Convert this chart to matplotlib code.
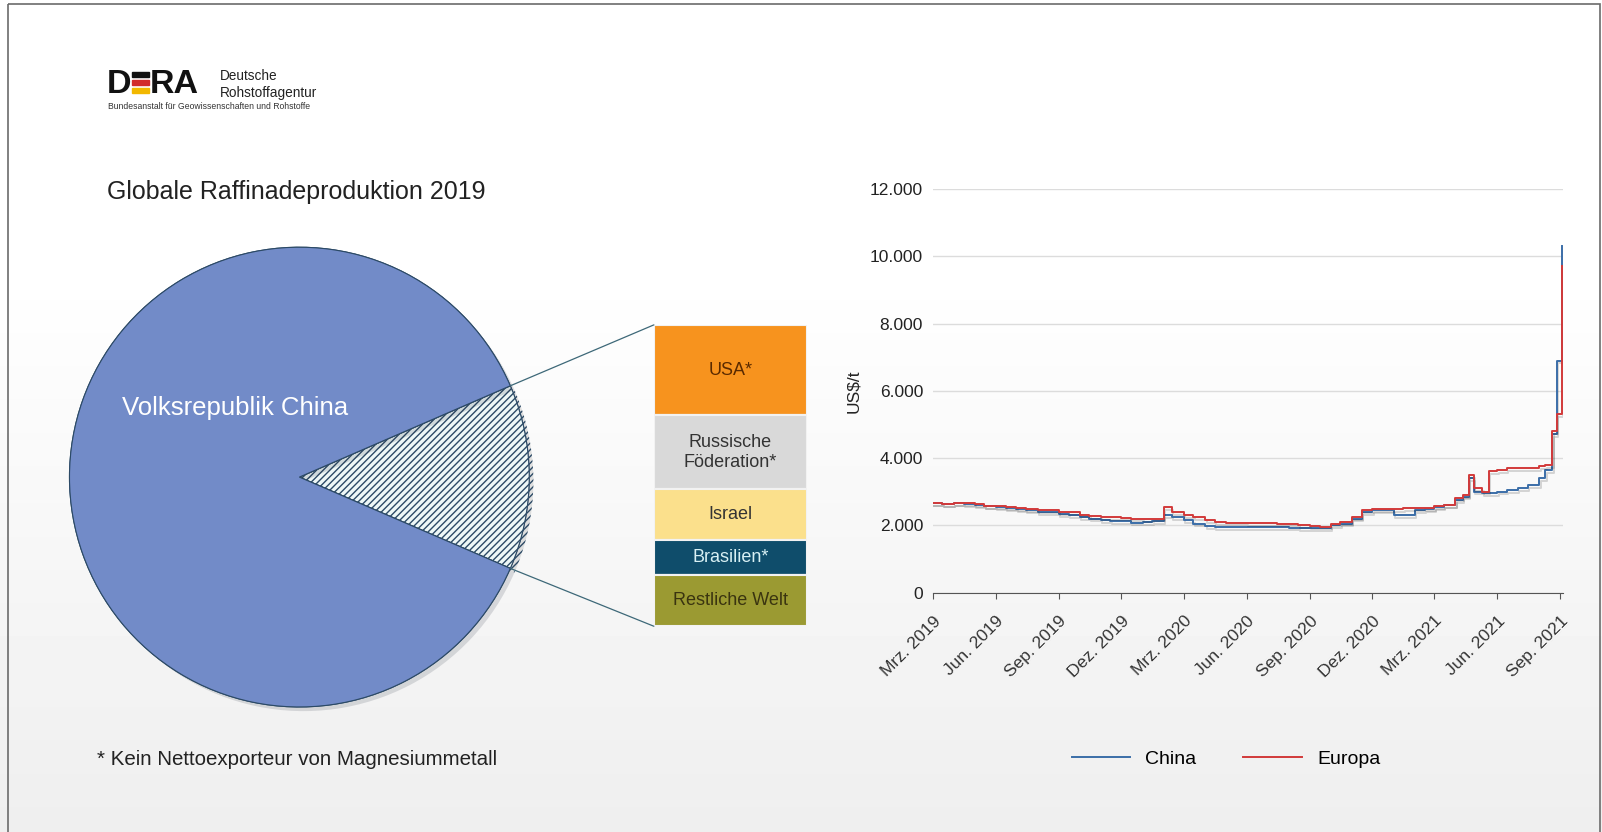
import matplotlib
matplotlib.use('Agg')
import matplotlib.pyplot as plt
import matplotlib.patheffects as pe
from matplotlib.patches import Rectangle, ConnectionPatch
import numpy as np
import pandas as pd

plt.rcParams['font.family'] = ['Liberation Sans', 'DejaVu Sans']

# pie / stack data (share of global production 2019, %)
china_share = 87.0
other_names = ['USA*', 'Russische\nFöderation*', 'Israel', 'Brasilien*', 'Restliche Welt']
other_shares = [3.9, 3.2, 2.2, 1.5, 2.2]
other_colors = ['#f7931e', '#d9d9d9', '#fbe08c', '#0f4d6b', '#9b9a32']
other_text = ['#5a2a00', '#333333', '#333333', '#d8f0f4', '#3a3410']

# price series (US$/t)
dates = ['2019-03-01', '2019-03-15', '2019-04-01', '2019-04-15', '2019-05-01', '2019-05-15',
         '2019-06-01', '2019-06-15', '2019-07-01', '2019-07-15', '2019-08-01', '2019-08-15',
         '2019-09-01', '2019-09-15', '2019-10-01', '2019-10-15', '2019-11-01', '2019-11-15',
         '2019-12-01', '2019-12-15', '2020-01-01', '2020-01-15', '2020-01-25', '2020-02-01',
         '2020-02-12', '2020-03-01', '2020-03-15', '2020-04-01', '2020-04-15', '2020-05-01',
         '2020-05-15', '2020-06-01', '2020-06-15', '2020-07-01', '2020-07-15', '2020-08-01',
         '2020-08-15', '2020-09-01', '2020-09-15', '2020-10-01', '2020-10-15', '2020-11-01',
         '2020-11-15', '2020-12-01', '2020-12-15', '2021-01-01', '2021-01-15', '2021-02-01',
         '2021-02-15', '2021-03-01', '2021-03-15', '2021-04-01', '2021-04-12', '2021-04-20',
         '2021-04-28', '2021-05-10', '2021-05-20', '2021-06-01', '2021-06-15', '2021-07-01',
         '2021-07-15', '2021-08-01', '2021-08-10', '2021-08-20', '2021-08-27', '2021-09-03']
china = [2650, 2620, 2660, 2640, 2600, 2560,
         2540, 2500, 2470, 2450, 2400, 2380,
         2330, 2300, 2250, 2200, 2150, 2130,
         2120, 2080, 2100, 2120, 2130, 2300,
         2250, 2150, 2050, 1980, 1950, 1950,
         1940, 1940, 1950, 1950, 1940, 1930,
         1920, 1910, 1920, 2000, 2050, 2200,
         2400, 2450, 2450, 2300, 2300, 2450,
         2480, 2550, 2600, 2750, 2850, 3400,
         3000, 2950, 2950, 3000, 3050, 3100,
         3200, 3400, 3650, 4700, 6900, 10300]
europa = [2650, 2640, 2660, 2650, 2620, 2580,
          2560, 2530, 2500, 2480, 2460, 2440,
          2400, 2380, 2320, 2280, 2250, 2250,
          2230, 2200, 2180, 2200, 2200, 2550,
          2400, 2300, 2250, 2150, 2100, 2080,
          2080, 2070, 2070, 2060, 2050, 2050,
          2000, 1980, 1960, 2050, 2100, 2250,
          2450, 2470, 2480, 2480, 2500, 2520,
          2520, 2560, 2600, 2800, 2900, 3500,
          3100, 3000, 3600, 3650, 3700, 3700,
          3700, 3750, 3800, 4800, 5300, 9700]

tick_dates = ['2019-03-01', '2019-06-01', '2019-09-01', '2019-12-01', '2020-03-01', '2020-06-01',
              '2020-09-01', '2020-12-01', '2021-03-01', '2021-06-01', '2021-09-01']
tick_labels = ['Mrz. 2019', 'Jun. 2019', 'Sep. 2019', 'Dez. 2019', 'Mrz. 2020', 'Jun. 2020',
               'Sep. 2020', 'Dez. 2020', 'Mrz. 2021', 'Jun. 2021', 'Sep. 2021']

fig = plt.figure(figsize=(16.02, 8.32), dpi=100)

# layout grid: 1568 x 814 units over the whole figure
W, H = 1568, 814.4


def fx(px):
    return px / W


def fy(py):
    return 1 - py / H


# background canvas
bg = fig.add_axes([0, 0, 1, 1], zorder=-10)
bg.set_xlim(0, W)
bg.set_ylim(H, 0)
bg.axis('off')
grad = np.linspace(1.0, 0.905, 200)[:, None]
grad = np.clip(grad + 0.03, 0, 1)
bg.imshow(grad, extent=[0, W, H, 0], cmap='gray', vmin=0, vmax=1, aspect='auto')
bg.add_patch(Rectangle((8, 4), 1558, 840, fill=False, edgecolor='#6b6b6b', lw=1.2))

# logo
bg.text(104, 83, 'D', fontsize=24.5, fontweight='bold', va='center', ha='left', color='#111111')
for i, c in enumerate(['#111111', '#d22b2b', '#f2b800']):
    bg.add_patch(Rectangle((129, 70 + i * 8), 17, 5.5, color=c))
bg.text(147, 83, 'RA', fontsize=24.5, fontweight='bold', va='center', ha='left', color='#111111')
bg.text(215, 74, 'Deutsche', fontsize=9.8, va='center', color='#222222')
bg.text(215, 91, 'Rohstoffagentur', fontsize=9.8, va='center', color='#222222')
bg.text(106, 104, 'Bundesanstalt für Geowissenschaften und Rohstoffe', fontsize=6.2,
        va='center', color='#333333')

bg.text(105, 188, 'Globale Raffinadeproduktion 2019', fontsize=18, va='center', color='#222222')
bg.text(95, 743, '* Kein Nettoexporteur von Magnesiummetall', fontsize=14.8, va='center',
        color='#222222')

# pie
rest = sum(other_shares)
pax = fig.add_axes([fx(68), fy(692), fx(450), 450 / H])
pax.set_facecolor('none')
half = rest / 100 * 360 / 2
wedges, _ = pax.pie([rest, china_share], colors=['#eef8f7', '#728bc8'], startangle=-half,
                    counterclock=True, radius=1,
                    wedgeprops=dict(edgecolor='#2c4a66', linewidth=0.8))
wedges[0].set_hatch('/////')
for w in wedges:
    w.set_path_effects([pe.withSimplePatchShadow(offset=(3, -3), alpha=0.15), pe.Normal()])
pax.set_xlim(-1, 1)
pax.set_ylim(-1, 1)
pax.set_aspect('equal')
pax.text(-0.77, 0.3, 'Volksrepublik China', fontsize=18.5, color='white', va='center', ha='left')

# stacked box for the other countries
sax = fig.add_axes([fx(640), fy(613), fx(150), 295 / H])
sax.set_facecolor('none')
bottoms = np.concatenate([[0], np.cumsum(other_shares)[:-1]])
bars = sax.bar([0] * len(other_shares), other_shares, bottom=bottoms, width=1,
               color=other_colors, edgecolor='#f2f2f2', linewidth=1.5)
for b in bars:
    b.set_path_effects([pe.withSimplePatchShadow(offset=(3, -3), alpha=0.25), pe.Normal()])
for name, b0, h, tc in zip(other_names, bottoms, other_shares, other_text):
    sax.text(0, b0 + h / 2, name, ha='center', va='center', fontsize=13, color=tc,
             linespacing=1.25)
sax.set_xlim(-0.5, 0.5)
sax.set_ylim(rest, 0)
sax.axis('off')

# connectors from wedge to stack
ang = np.deg2rad(half)
for sgn, ytop in [(1, 0), (-1, rest)]:
    con = ConnectionPatch(xyA=(np.cos(ang), sgn * np.sin(ang)), coordsA=pax.transData,
                          xyB=(-0.5, ytop), coordsB=sax.transData,
                          color='#3d6878', lw=0.9)
    fig.add_artist(con)

# price chart
d = pd.to_datetime(dates)
ax_l, ax_b, ax_w, ax_h = fx(913), fy(580), fx(1530 - 913), 395 / H
ax = fig.add_axes([ax_l, ax_b, ax_w, ax_h])
ax.set_facecolor('none')
shadow = [pe.SimpleLineShadow(offset=(1, -2), alpha=0.15), pe.Normal()]
ax.plot(d, china, color='#3b6ea8', lw=1.4, drawstyle='steps-post', label='China',
        path_effects=shadow)
ax.plot(d, europa, color='#d23a3a', lw=1.4, drawstyle='steps-post', label='Europa',
        path_effects=shadow)
ax.set_ylim(0, 12000)
ax.set_xlim(pd.Timestamp('2019-03-01'), pd.Timestamp('2021-09-05'))
ax.set_yticks(np.arange(0, 12001, 2000))
ax.set_yticklabels([f'{v:,.0f}'.replace(',', '.') for v in np.arange(0, 12001, 2000)],
                   fontsize=12.5, color='#222222')
ax.set_xticks(pd.to_datetime(tick_dates))
ax.set_xticklabels(tick_labels, rotation=45, ha='right', rotation_mode='anchor',
                   fontsize=12.5, color='#333333')
ax.grid(axis='y', color='#dcdcdc', lw=1)
ax.set_axisbelow(True)
for s in ['left', 'top', 'right']:
    ax.spines[s].set_visible(False)
ax.spines['bottom'].set_color('#555555')
ax.tick_params(axis='y', length=0, pad=7)
ax.tick_params(axis='x', length=4, color='#555555', pad=11)
ax.set_ylabel(r'US\$/t', fontsize=12.5, color='#222222', labelpad=6)
leg_y = (fy(743) - ax_b) / ax_h
leg = ax.legend(loc='center', bbox_to_anchor=(0.465, leg_y), frameon=False, ncol=2,
                fontsize=14, handlelength=3.0, columnspacing=2.4, handletextpad=0.8)
for line in leg.get_lines():
    line.set_path_effects([])

fig.savefig('out.png', dpi=100)
